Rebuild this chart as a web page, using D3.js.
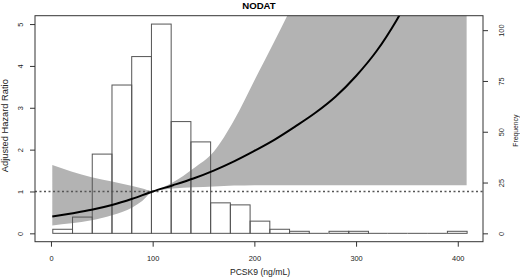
<!DOCTYPE html>
<html>
<head>
<meta charset="utf-8">
<script src="https://cdn.jsdelivr.net/npm/d3@7"></script>
<style>
  html, body { margin: 0; padding: 0; background: #fff; }
  svg { display: block; font-family: "Liberation Sans", Arial, Helvetica, sans-serif; }
</style>
</head>
<body>
<svg id="chart" width="520" height="279"></svg>
<script>
// ---------------- data ----------------
const title = "NODAT";
const xLabel = "PCSK9 (ng/mL)";
const yLabel = "Adjusted Hazard Ratio";
const y2Label = "Frequency";

const xTicks = [0, 100, 200, 300, 400];
const yTicks = [0, 1, 2, 3, 4, 5];
const freqTicks = [0, 25, 50, 75, 100];

// histogram of PCSK9 (bin edges and counts)
const histBreaks = [1.3, 20.7, 40.1, 59.5, 78.9, 98.3, 117.7, 137.1, 156.5, 175.9, 195.3,
                    214.7, 234.1, 253.5, 272.9, 292.3, 311.7, 331.1, 350.5, 369.9, 389.3, 408.7];
const histCounts = [2, 8, 39, 73, 87, 103, 55, 45, 15, 14, 6, 2, 1, 0, 1, 1, 0, 0, 0, 0, 1];

// adjusted hazard ratio curve
const curveX  = [1.3, 20, 40, 60, 80, 100, 120, 140, 160, 180, 200, 220, 240, 260, 280, 300, 320, 340, 360, 380, 408.7];
const curveHR = [0.40, 0.475, 0.562, 0.675, 0.825, 1.00, 1.15, 1.31, 1.50, 1.72, 1.97, 2.24, 2.55, 2.88, 3.27, 3.76, 4.35, 5.10, 6.0, 7.1, 8.9];

// 95% confidence band
const bandX     = [1.3, 20, 40, 60, 80, 90, 100, 110, 120, 140, 160, 180, 200, 220, 240, 260, 300, 350, 408.7];
const bandLower = [0.19, 0.24, 0.31, 0.43, 0.62, 0.78, 1.0, 1.04, 1.07, 1.10, 1.12, 1.14, 1.15, 1.15, 1.15, 1.15, 1.15, 1.15, 1.15];
const bandUpper = [1.63, 1.48, 1.34, 1.24, 1.13, 1.07, 1.0, 1.10, 1.22, 1.55, 1.95, 2.7, 3.65, 4.6, 5.6, 6.8, 10, 15, 22];

const refHR = 1;

// ---------------- layout ----------------
const svg = d3.select("#chart");
const P = { l: 35, r: 483, t: 15.7, b: 241.7 };

const x = d3.scaleLinear().domain([-15.7, 424.8]).range([P.l, P.r]);
const y = d3.scaleLinear().domain([-0.2, 5.2]).range([P.b, P.t]);
const maxFreq = d3.max(histCounts);
const yF = d3.scaleLinear().domain([0, maxFreq]).range([y(0), y(5)]);

svg.append("clipPath").attr("id", "clip")
  .append("rect").attr("x", P.l).attr("y", P.t).attr("width", P.r - P.l).attr("height", P.b - P.t);

const g = svg.append("g").attr("clip-path", "url(#clip)");

const bins = histCounts.map((c, i) => ({ x0: histBreaks[i], x1: histBreaks[i + 1], c }));

// confidence band
const band = bandX.map((v, i) => ({ x: v, lo: bandLower[i], hi: bandUpper[i] }));
g.append("path")
  .datum(band)
  .attr("fill", "#b3b3b3")
  .attr("d", d3.area().curve(d3.curveMonotoneX)
    .x(d => x(d.x)).y0(d => y(d.lo)).y1(d => y(d.hi)));

// histogram outlines
g.selectAll("rect.bar").data(bins.filter(b => b.c > 0)).enter().append("rect")
  .attr("class", "bar")
  .attr("x", d => x(d.x0) + 0.5)
  .attr("width", d => x(d.x1) - x(d.x0))
  .attr("y", d => yF(d.c))
  .attr("height", d => yF(0) - yF(d.c))
  .attr("fill", "none")
  .attr("stroke", "#555")
  .attr("stroke-width", 1);
// baseline segments for empty bins
g.selectAll("line.empty").data(bins.filter(b => b.c === 0)).enter().append("line")
  .attr("x1", d => x(d.x0)).attr("x2", d => x(d.x1))
  .attr("y1", yF(0)).attr("y2", yF(0))
  .attr("stroke", "#555").attr("stroke-width", 1);

// reference line
g.append("line")
  .attr("x1", P.l).attr("x2", P.r)
  .attr("y1", y(refHR)).attr("y2", y(refHR))
  .attr("stroke", "#555").attr("stroke-width", 1.3)
  .attr("stroke-dasharray", "2,2.5");

// HR curve
const curve = curveX.map((v, i) => ({ x: v, hr: curveHR[i] }));
g.append("path")
  .datum(curve)
  .attr("fill", "none")
  .attr("stroke", "#000")
  .attr("stroke-width", 2)
  .attr("d", d3.line().curve(d3.curveMonotoneX).x(d => x(d.x)).y(d => y(d.hr)));

// box
svg.append("rect")
  .attr("x", P.l).attr("y", P.t).attr("width", P.r - P.l).attr("height", P.b - P.t)
  .attr("fill", "none").attr("stroke", "#333").attr("stroke-width", 1);

const tickFont = 7.4;
const fmt = d3.format("d");
// bottom axis
const ax = svg.append("g").attr("transform", `translate(0,${P.b})`)
  .call(d3.axisBottom(x).tickValues(xTicks).tickFormat(fmt).tickSize(5).tickSizeOuter(0));
ax.select(".domain").remove();
ax.selectAll("line").attr("stroke", "#333");
ax.selectAll("text").attr("y", 19).attr("dy", 0)
  .attr("font-size", tickFont).attr("fill", "#222").attr("font-family", null);

// left axis
const ay = svg.append("g").attr("transform", `translate(${P.l},0)`)
  .call(d3.axisLeft(y).tickValues(yTicks).tickFormat(fmt).tickSize(5).tickSizeOuter(0));
ay.select(".domain").remove();
ay.selectAll("line").attr("stroke", "#333");
ay.selectAll("text")
  .attr("transform", "rotate(-90)")
  .attr("x", 0).attr("y", -11.7).attr("dy", 0)
  .attr("text-anchor", "middle")
  .attr("font-size", tickFont).attr("fill", "#222").attr("font-family", null);

// right axis (frequency)
const ar = svg.append("g").attr("transform", `translate(${P.r},0)`)
  .call(d3.axisRight(yF).tickValues(freqTicks).tickFormat(fmt).tickSize(5).tickSizeOuter(0));
ar.select(".domain").remove();
ar.selectAll("line").attr("stroke", "#333");
ar.selectAll("text")
  .attr("transform", "rotate(-90)")
  .attr("x", 0).attr("y", 21).attr("dy", 0)
  .attr("text-anchor", "middle")
  .attr("font-size", tickFont).attr("fill", "#222").attr("font-family", null);

// titles
svg.append("text")
  .attr("x", (P.l + P.r) / 2).attr("y", 8.5)
  .attr("text-anchor", "middle")
  .attr("font-size", 9.6).attr("font-weight", "bold").attr("fill", "#000")
  .text(title);

svg.append("text")
  .attr("x", 260).attr("y", 275.3)
  .attr("text-anchor", "middle")
  .attr("font-size", 8.6).attr("fill", "#222")
  .text(xLabel);

svg.append("text")
  .attr("transform", `translate(8.3,${(P.t + P.b) / 2 - 3}) rotate(-90)`)
  .attr("text-anchor", "middle")
  .attr("font-size", 9.3).attr("fill", "#222")
  .text(yLabel);

svg.append("text")
  .attr("transform", `translate(517.5,${(P.t + P.b) / 2 + 2}) rotate(-90)`)
  .attr("text-anchor", "middle")
  .attr("font-size", 6.8).attr("fill", "#222")
  .text(y2Label);
</script>
</body>
</html>
